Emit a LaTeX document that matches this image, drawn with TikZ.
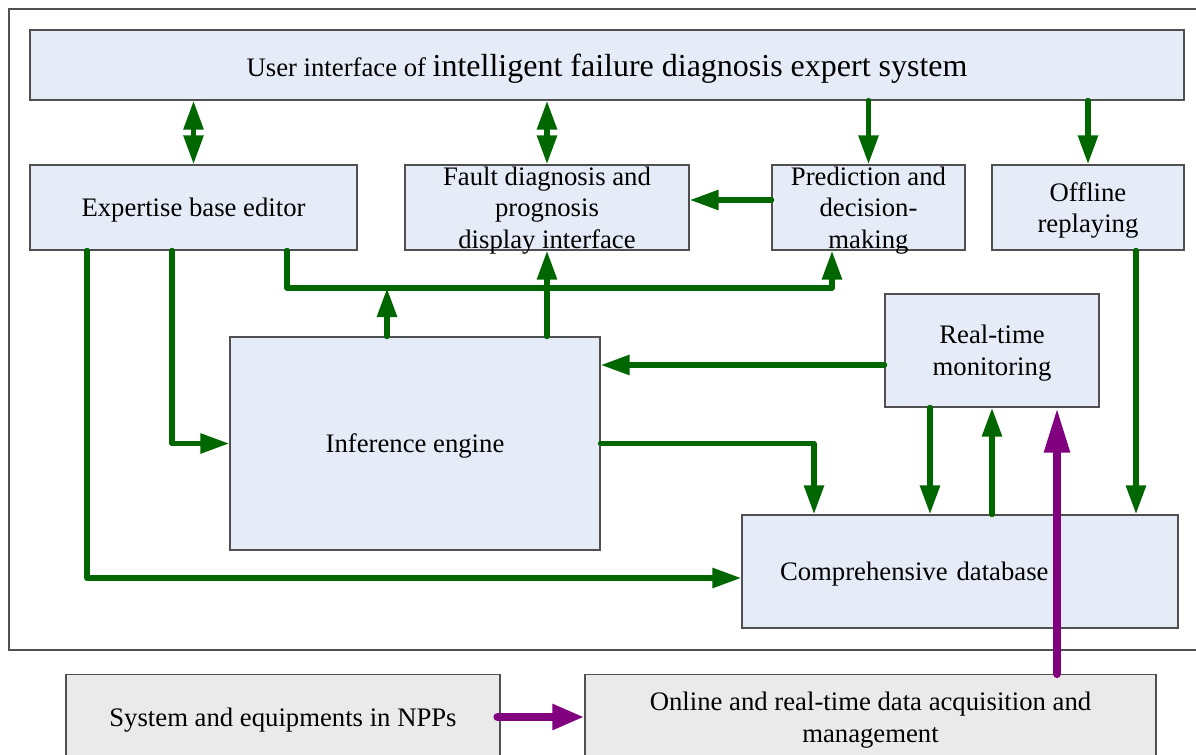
\documentclass[tikz,border=0pt]{standalone}
\usepackage{fontspec}
\setmainfont{Liberation Serif}
\usepackage{xcolor}
\definecolor{DGGreen}{RGB}{0,102,0}
\definecolor{DGPurple}{RGB}{128,0,128}
\definecolor{DGBlue}{RGB}{230,236,247}
\definecolor{DGGray}{RGB}{234,234,234}
\definecolor{DGEdge}{RGB}{80,80,80}
\usetikzlibrary{arrows.meta,calc}

\begin{document}
\begin{tikzpicture}[>=Triangle, font=\fontsize{15.2}{18}\selectfont]
\tikzstyle{blkU}=[draw=DGEdge, fill=DGBlue, line width=0.7pt, align=center, inner sep=0pt, text depth=0pt]
\tikzstyle{blkS}=[draw=DGEdge, fill=DGGray, line width=0.7pt, align=center, inner sep=0pt, text depth=0pt]
\tikzstyle{arr}=[-{Triangle[length=0.58cm,width=0.38cm]}, line width=3.2pt, draw=DGGreen, line cap=round, line join=round]
\tikzstyle{darr}=[{Triangle[length=0.58cm,width=0.38cm]}-{Triangle[length=0.58cm,width=0.38cm]}, line width=3.2pt, draw=DGGreen]
\tikzstyle{parr}=[-{Triangle[length=0.9cm,width=0.48cm]}, line width=4.8pt, draw=DGPurple, line cap=round]

\useasboundingbox (0,0) rectangle (23.92,-15.10);
\draw[DGEdge, line width=0.6pt] (0.18,-0.18) rectangle (24.3,-13.0);

\node[blkU, minimum width=23.08cm, minimum height=1.4cm] (ui) at (12.14,-1.30)
  {User interface of {\fontsize{18.2}{20}\selectfont intelligent failure diagnosis expert system}};
\node[blkU, minimum width=6.54cm, minimum height=1.7cm] (expert) at (3.87,-4.15) {Expertise base editor};
\node[blkU, minimum width=5.68cm, minimum height=1.7cm] (fault) at (10.94,-4.15) {Fault diagnosis and\\prognosis\\display interface};
\node[blkU, minimum width=3.86cm, minimum height=1.7cm] (pred) at (17.37,-4.15) {Prediction and\\decision-\\making};
\node[blkU, minimum width=3.84cm, minimum height=1.7cm] (off) at (21.76,-4.15) {Offline\\replaying};
\node[blkU, minimum width=7.4cm, minimum height=4.26cm] (inf) at (8.30,-8.87) {Inference engine};
\node[blkU, minimum width=4.28cm, minimum height=2.26cm] (rt) at (19.84,-7.01) {Real-time\\monitoring};
\node[blkU, text width=7.2cm, inner xsep=0.76cm, minimum height=2.26cm, align=left] (db) at (19.20,-11.43) {Comprehensive database};
\node[blkS, minimum width=8.68cm, minimum height=1.7cm] (sys) at (5.66,-14.34) {System and equipments in NPPs};
\node[blkS, minimum width=11.42cm, minimum height=1.7cm] (online) at (17.41,-14.34) {Online and real-time data acquisition and\\management};

\coordinate (bus) at (0,-5.76);

\draw[darr] (ui.south -| expert.south) -- (expert.north);
\draw[darr] (ui.south -| fault.north) -- (fault.north);
\draw[arr] (ui.south -| pred.north) -- (pred.north);
\draw[arr] (ui.south -| off.north) -- (off.north);
\draw[arr] ([yshift=0.15cm]pred.west) -- ([yshift=0.15cm]pred.west -| fault.east);
\draw[arr] ([xshift=1.87cm]expert.south) |- ([xshift=-0.73cm]pred.south |- bus) -- ([xshift=-0.73cm]pred.south);
\draw[arr] ([xshift=-0.56cm]inf.north) -- ([xshift=-0.56cm]inf.north |- bus);
\draw[arr] (inf.north -| fault.south) -- (fault.south);
\draw[arr] ([xshift=-0.43cm]expert.south) |- (inf.west);
\draw[arr] ([xshift=-2.13cm]expert.south) |- ([yshift=-0.13cm]db.west);
\draw[arr] ([yshift=-0.29cm]rt.west) -- ([yshift=-0.29cm]rt.west -| inf.east);
\draw[arr] (inf.east) -| ([xshift=-2.92cm]db.north);
\draw[arr] ([xshift=-1.24cm]rt.south) -- ([xshift=-1.24cm]rt.south |- db.north);
\draw[arr] (db.north -| rt.south) -- (rt.south);
\draw[arr] ([xshift=0.96cm]off.south) -- ([xshift=0.96cm]off.south |- db.north);

\draw[parr] ([xshift=1.30cm]rt.south |- online.north) -- ([xshift=1.30cm]rt.south);
\draw[parr, -{Triangle[length=0.64cm,width=0.48cm]}] ([xshift=-0.06cm]sys.east) -- (online.west);
\end{tikzpicture}
\end{document}
